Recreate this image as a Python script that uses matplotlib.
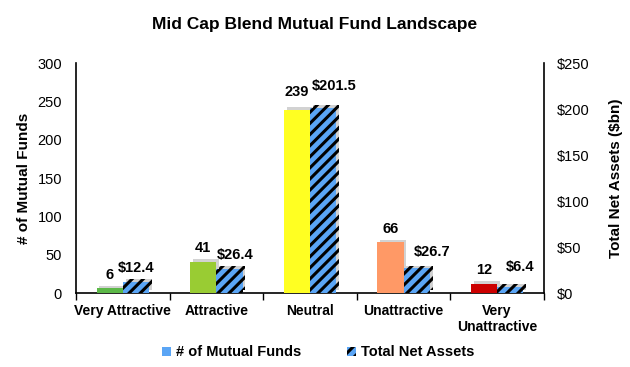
import matplotlib
matplotlib.use("Agg")
import matplotlib.pyplot as plt
import matplotlib.patheffects as pe
import numpy as np
from matplotlib.patches import Patch

categories = ["Very Attractive", "Attractive", "Neutral", "Unattractive", "Very\nUnattractive"]
num_funds = [6, 41, 239, 66, 12]
net_assets = [12.4, 26.4, 201.5, 26.7, 6.4]
fund_labels = ["6", "41", "239", "66", "12"]
asset_labels = ["$12.4", "$26.4", "$201.5", "$26.7", "$6.4"]
bar_colors = ["#5cb848", "#99cc33", "#ffff22", "#ff9966", "#cc0000"]
left_ticks = [0, 50, 100, 150, 200, 250, 300]
right_ticks = [0, 50, 100, 150, 200, 250]
right_tick_labels = ["$0", "$50", "$100", "$150", "$200", "$250"]

# label nudges (points) to mimic the reference label placement
fund_dy = [0, 0, 2.5, 0, 0]
asset_dx = [0, 4, 8, 11, 7]
asset_dy = [0, 0, 5.5, 1.5, 4.5]

plt.rcParams['font.family'] = ['Liberation Sans', 'DejaVu Sans']
plt.rcParams['hatch.linewidth'] = 2.2

fig = plt.figure(figsize=(6.3, 3.67), dpi=100)
ax = fig.add_axes([0.1206, 0.2016, 0.7428, 0.6267])
ax2 = ax.twinx()

x = np.arange(len(categories))
w = 0.28
shadow = [pe.SimplePatchShadow(offset=(2, 2), shadow_rgbFace='gray', alpha=0.35), pe.Normal()]

b1 = ax.bar(x - w / 2, num_funds, w, color=bar_colors, linewidth=0, zorder=3)
b2 = ax2.bar(x + w / 2, net_assets, w, color="#5aa5f5", edgecolor="black", hatch="///", linewidth=0, zorder=3)
for b in list(b1) + list(b2):
    b.set_path_effects(shadow)

for xi, v, lab, dy in zip(x, num_funds, fund_labels, fund_dy):
    ax2.annotate(lab, (xi - w / 2, v), xycoords=ax.transData, xytext=(0, 10 + dy),
                 textcoords="offset points", ha="center", va="center",
                 fontsize=10.5, fontweight="bold", zorder=5)
for xi, v, lab, dx, dy in zip(x, net_assets, asset_labels, asset_dx, asset_dy):
    ax2.annotate(lab, (xi + w / 2, v), xytext=(dx, 10 + dy), textcoords="offset points",
                 ha="center", va="center", fontsize=10.5, fontweight="bold", zorder=5)

ax.set_xlim(-0.5, len(categories) - 0.5)
ax.set_ylim(0, 300)
ax2.set_ylim(0, 250)
ax.set_yticks(left_ticks)
ax.set_yticklabels([str(t) for t in left_ticks], fontsize=10.5)
ax2.set_yticks(right_ticks)
ax2.set_yticklabels(right_tick_labels, fontsize=10.5)
ax.tick_params(axis='y', length=0, pad=10)
ax2.tick_params(axis='y', length=0, pad=9)

ax.set_xticks(x)
ax.set_xticklabels(categories, fontsize=10, fontweight="bold")
ax.tick_params(axis='x', length=0, pad=8)
ax.set_xticks(np.arange(-0.5, len(categories), 1.0), minor=True)
ax.tick_params(axis='x', which='minor', length=5, direction='out', width=1)

for a in (ax, ax2):
    a.spines['top'].set_visible(False)
ax.spines['right'].set_visible(False)
ax2.spines['left'].set_visible(False)
ax2.spines['bottom'].set_visible(False)
for s in ['left', 'bottom']:
    ax.spines[s].set_linewidth(1.2)
ax2.spines['right'].set_linewidth(1.2)

ax.set_ylabel("# of Mutual Funds", fontsize=11, fontweight="bold", labelpad=5)
ax2.set_ylabel("Total Net Assets ($bn)", fontsize=11, fontweight="bold", labelpad=14)

fig.text(0.5, 0.932, "Mid Cap Blend Mutual Fund Landscape", ha="center", va="center",
         fontsize=12.5, fontweight="bold")

handles = [Patch(facecolor="#5aa5f5", linewidth=0),
           Patch(facecolor="#5aa5f5", edgecolor="black", hatch="///", linewidth=0)]
fig.legend(handles, ["# of Mutual Funds", "Total Net Assets"], loc="center",
           bbox_to_anchor=(0.505, 0.04), ncol=2, frameon=False,
           prop={'weight': 'bold', 'size': 10.5}, handlelength=0.6, handleheight=0.6,
           handletextpad=0.3, columnspacing=3.2)

fig.savefig("out.png", dpi=100)
